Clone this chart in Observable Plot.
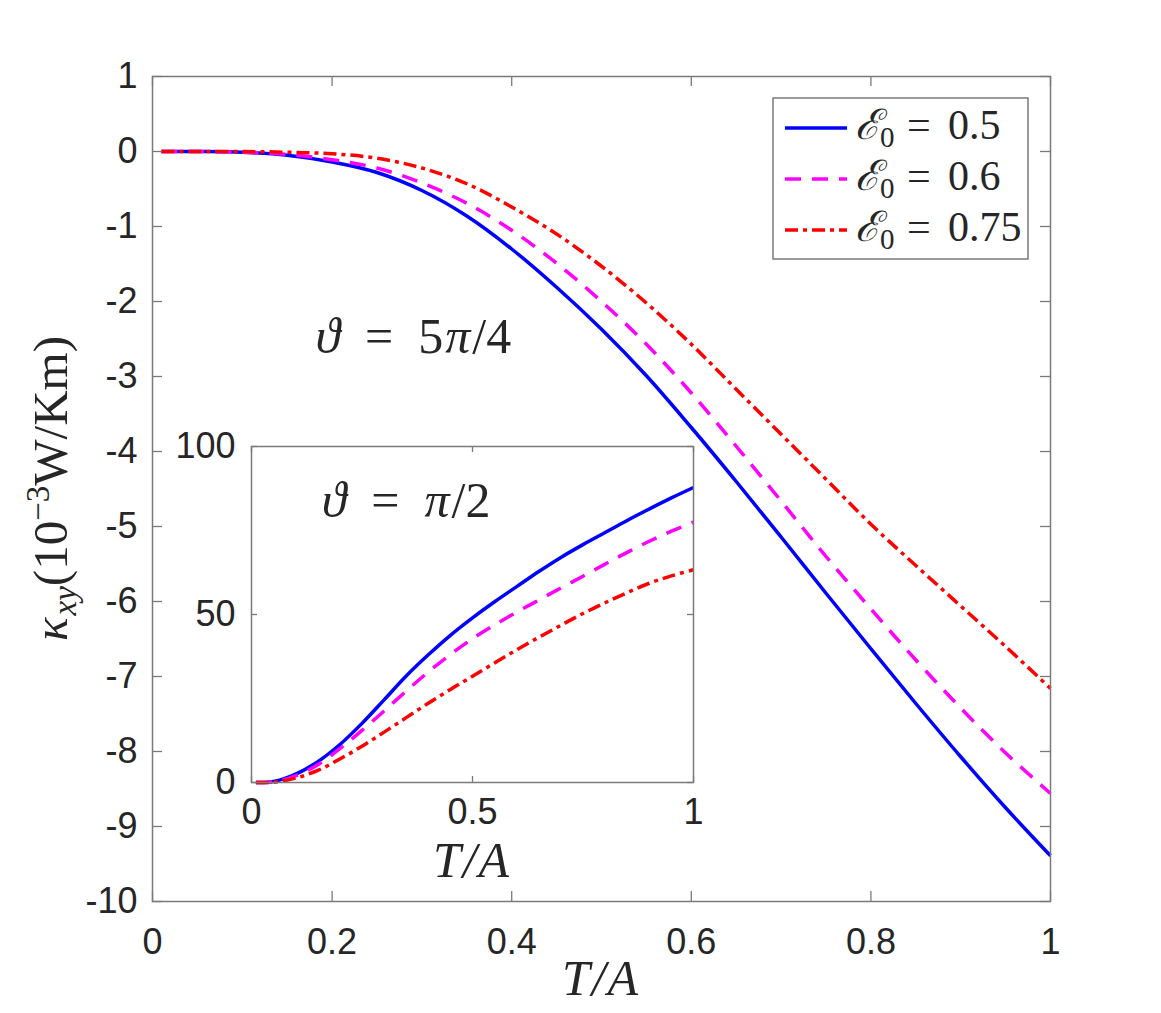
<!DOCTYPE html>
<html>
<head>
<meta charset="utf-8">
<script src="https://cdn.jsdelivr.net/npm/d3@7"></script>
<script src="https://cdn.jsdelivr.net/npm/@observablehq/plot@0.6"></script>
<style>
  html, body { margin: 0; padding: 0; background: #fff; }
  #fig { position: relative; width: 1161px; height: 1013px; background: #fff; overflow: hidden; }
  #fig svg { position: absolute; left: 0; top: 0; }
</style>
</head>
<body>
<div id="fig"></div>
<script>
// Temperature grid, T/A
const T = [0.01, 0.05, 0.1, 0.15, 0.2, 0.25, 0.3, 0.35, 0.4, 0.45, 0.5,
           0.55, 0.6, 0.65, 0.7, 0.75, 0.8, 0.85, 0.9, 0.95, 1.0];

// Main panel: kappa_xy (10^-3 W/Km) at theta = 5pi/4
const kMainE05  = [0, 0, -0.01, -0.05, -0.14, -0.28, -0.52, -0.86, -1.30, -1.81, -2.37,
                   -2.99, -3.68, -4.40, -5.14, -5.89, -6.63, -7.36, -8.07, -8.75, -9.39];
const kMainE06  = [0, 0, -0.01, -0.04, -0.11, -0.22, -0.42, -0.69, -1.05, -1.49, -2.00,
                   -2.57, -3.22, -3.93, -4.66, -5.40, -6.10, -6.78, -7.42, -8.02, -8.56];
const kMainE075 = [0, 0, 0, -0.01, -0.03, -0.09, -0.22, -0.43, -0.74, -1.10, -1.53,
                   -2.02, -2.57, -3.17, -3.77, -4.37, -4.97, -5.52, -6.06, -6.60, -7.16];

// Inset: kappa_xy at theta = pi/2
const kInsetE05  = [0, 0.3, 2.5, 6.2, 11.3, 17.6, 24.6, 31.7, 38.0, 43.8, 49.0,
                    53.8, 58.3, 62.8, 67.0, 70.8, 74.4, 78.0, 81.4, 84.7, 87.8];
const kInsetE06  = [0, 0.2, 2.0, 5.3, 10.1, 15.5, 21.3, 27.2, 32.9, 38.1, 42.8,
                    46.9, 50.7, 54.3, 57.9, 61.4, 65.0, 68.5, 71.8, 74.8, 77.5];
const kInsetE075 = [0, 0.1, 1.3, 3.6, 7.0, 10.8, 15.0, 19.3, 23.6, 27.7, 31.6,
                    35.6, 39.5, 43.2, 46.8, 50.3, 53.5, 56.5, 59.3, 61.5, 63.3];

// Series: E_0 values
const e0Labels = ["0.5", "0.6", "0.75"];

// Tick values
const mainXTicks  = [0, 0.2, 0.4, 0.6, 0.8, 1];
const mainYTicks  = [1, 0, -1, -2, -3, -4, -5, -6, -7, -8, -9, -10];
const insetXTicks = [0, 0.5, 1];
const insetYTicks = [0, 50, 100];

// ---------------------------------------------------------------------------
const seriesStyle = [
  { stroke: "#0000ff", dash: null },
  { stroke: "#ff00ff", dash: "16,11" },
  { stroke: "#ff0000", dash: "13,5,4,5" }
];
const axisColor = "#7a7a7a";
const textColor = "#262626";
const sans = "'Liberation Sans', Arial, Helvetica, sans-serif";
const serif = "'Liberation Serif', 'DejaVu Serif', 'Times New Roman', serif";
const fmt = d => String(d);

function seriesLines(valueArrays) {
  return valueArrays.map((vals, i) => Plot.line(
    T.map((t, j) => ({ t, k: vals[j] })),
    {
      x: "t", y: "k",
      curve: "catmull-rom",
      stroke: seriesStyle[i].stroke,
      strokeWidth: 3.5,
      strokeDasharray: seriesStyle[i].dash ?? undefined,
      strokeLinecap: "butt",
      strokeLinejoin: "round"
    }
  ));
}

// inward tick marks on all four sides of a frame
function boxTicks(xTicks, yTicks, innerW, innerH, len) {
  const o = { stroke: axisColor, strokeWidth: 1.3 };
  return [
    Plot.tickY(yTicks, { y: d => d, insetRight: innerW - len, ...o }),
    Plot.tickY(yTicks, { y: d => d, insetLeft: innerW - len, ...o }),
    Plot.tickX(xTicks, { x: d => d, insetTop: innerH - len, ...o }),
    Plot.tickX(xTicks, { x: d => d, insetBottom: innerH - len, ...o })
  ];
}

// math-style label: italic symbol, optional subscript, then the rest
function mathLabel(sel, parts) {
  parts.forEach(p => {
    const s = sel.append("tspan").text(p.text);
    if (p.italic) s.attr("font-style", "italic");
    if (p.size) s.attr("font-size", p.size);
    if (p.dy) s.attr("dy", p.dy);
    if (p.dx) s.attr("dx", p.dx);
    if (p.x != null) s.attr("x", p.x);
  });
}

// ---------------------------------------------------------------------------
// Main panel
const W = 1161, H = 1013;
const mL = 152, mR = 111, mT = 76, mB = 112;
const innerW = W - mL - mR, innerH = H - mT - mB;

const main = Plot.plot({
  width: W, height: H,
  marginLeft: mL, marginRight: mR, marginTop: mT, marginBottom: mB,
  style: { background: "transparent", fontFamily: sans, fontSize: "36px", color: textColor, overflow: "visible" },
  x: { domain: [0, 1] },
  y: { domain: [-10, 1] },
  marks: [
    ...seriesLines([kMainE05, kMainE06, kMainE075]),
    Plot.frame({ stroke: axisColor, strokeWidth: 1.5 }),
    ...boxTicks(mainXTicks, mainYTicks, innerW, innerH, 10),
    Plot.axisX({ ticks: mainXTicks, tickSize: 0, tickPadding: 27, tickFormat: fmt, label: null, fill: textColor }),
    Plot.axisY({ ticks: mainYTicks, tickSize: 0, tickPadding: 15, tickFormat: fmt, label: null, fill: textColor })
  ]
});
document.getElementById("fig").appendChild(main);

const sx = main.scale("x"), sy = main.scale("y");
const msvg = d3.select(main);

// x-axis title
msvg.append("text")
  .attr("x", (sx.apply(0) + sx.apply(1)) / 2).attr("y", 995)
  .attr("text-anchor", "middle")
  .attr("font-family", serif).attr("font-style", "italic").attr("font-size", 50)
  .attr("letter-spacing", 2)
  .attr("fill", textColor)
  .text("T/A");

// y-axis title: kappa_xy (10^-3 W/Km)
{
  const yc = (sy.apply(1) + sy.apply(-10)) / 2;
  const t = msvg.append("text")
    .attr("transform", `translate(67,${yc}) rotate(-90)`)
    .attr("text-anchor", "middle")
    .attr("font-family", serif).attr("font-size", 49)
    .attr("fill", textColor);
  mathLabel(t, [
    { text: "κ", italic: true },
    { text: "xy", italic: true, size: 33, dy: 9, dx: 2 },
    { text: "(10", dy: -9 },
    { text: "−3", size: 33, dy: -18 },
    { text: "W/Km)", dy: 18 }
  ]);
}

// panel annotation
{
  const t = msvg.append("text")
    .attr("x", sx.apply(0.291)).attr("y", sy.apply(-2.69))
    .attr("text-anchor", "middle")
    .attr("font-family", serif).attr("font-size", 50)
    .attr("fill", textColor);
  mathLabel(t, [
    { text: "ϑ", italic: true },
    { text: "\u2002=\u20025" },
    { text: "π", italic: true, dx: 2 },
    { text: "/4", dx: 2 }
  ]);
}

// legend box in the upper-right corner of the main frame
{
  const right = sx.apply(1) - 22, top = sy.apply(1) + 22;
  const bw = 255, bh = 161;
  const g = msvg.append("g").attr("text-anchor", "start");
  g.append("rect")
    .attr("x", right - bw).attr("y", top).attr("width", bw).attr("height", bh)
    .attr("fill", "white").attr("stroke", axisColor).attr("stroke-width", 1.5);
  e0Labels.forEach((lab, i) => {
    const ly = top + 30 + i * 51;
    const x0 = right - bw + 12;
    g.append("line")
      .attr("x1", x0).attr("x2", x0 + 62).attr("y1", ly).attr("y2", ly)
      .attr("stroke", seriesStyle[i].stroke).attr("stroke-width", 3.5)
      .attr("stroke-dasharray", seriesStyle[i].dash);
    const tx = x0 + 70;
    const t = g.append("text")
      .attr("x", tx).attr("y", ly + 11)
      .attr("text-anchor", "start")
      .attr("font-family", serif).attr("font-size", 42).attr("fill", textColor);
    mathLabel(t, [
      { text: "ℰ", italic: true },
      { text: "0", size: 29, dy: 8 },
      { text: "=", dy: -8, x: tx + 52 },
      { text: lab, x: tx + 93 }
    ]);
  });
}

// ---------------------------------------------------------------------------
// Inset panel
const iL = 100, iR = 20, iT = 30, iB = 110;
const iW = 442, iH = 336;
const inset = Plot.plot({
  width: iL + iW + iR, height: iT + iH + iB,
  marginLeft: iL, marginRight: iR, marginTop: iT, marginBottom: iB,
  style: { background: "transparent", fontFamily: sans, fontSize: "36px", color: textColor, overflow: "visible" },
  x: { domain: [0, 1] },
  y: { domain: [0, 100] },
  marks: [
    Plot.frame({ fill: "white" }),
    ...seriesLines([kInsetE05, kInsetE06, kInsetE075]),
    Plot.frame({ stroke: axisColor, strokeWidth: 1.5 }),
    ...boxTicks(insetXTicks, insetYTicks, iW, iH, 6),
    Plot.axisX({ ticks: insetXTicks, tickSize: 0, tickPadding: 16, tickFormat: fmt, label: null, fill: textColor }),
    Plot.axisY({ ticks: insetYTicks, tickSize: 0, tickPadding: 16, tickFormat: fmt, label: null, fill: textColor })
  ]
});
inset.style.left = (sx.apply(0) + 99 - iL) + "px";
inset.style.top = (446 - iT) + "px";
document.getElementById("fig").appendChild(inset);

const ix = inset.scale("x"), iy = inset.scale("y");
const isvg = d3.select(inset);

isvg.append("text")
  .attr("x", (ix.apply(0) + ix.apply(1)) / 2).attr("y", iT + iH + 95)
  .attr("text-anchor", "middle")
  .attr("font-family", serif).attr("font-style", "italic").attr("font-size", 50)
  .attr("letter-spacing", 2)
  .attr("fill", textColor)
  .text("T/A");

{
  const t = isvg.append("text")
    .attr("x", ix.apply(0.351)).attr("y", iy.apply(79))
    .attr("text-anchor", "middle")
    .attr("font-family", serif).attr("font-size", 50)
    .attr("fill", textColor);
  mathLabel(t, [
    { text: "ϑ", italic: true },
    { text: "\u2002=\u2002" },
    { text: "π", italic: true },
    { text: "/2", dx: 2 }
  ]);
}
</script>
</body>
</html>
